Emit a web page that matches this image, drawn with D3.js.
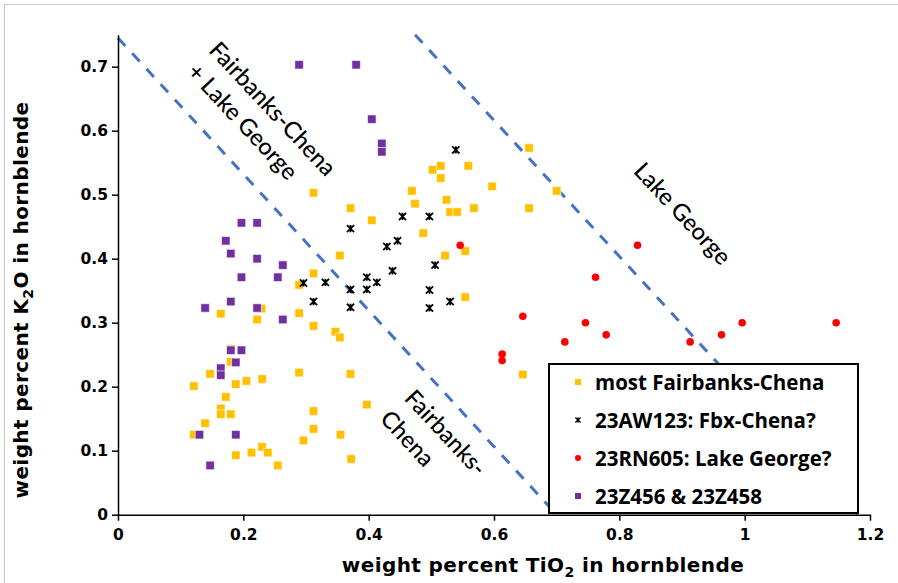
<!DOCTYPE html>
<html>
<head>
<meta charset="utf-8">
<script src="https://cdn.jsdelivr.net/npm/d3@7/dist/d3.min.js"></script>
<style>
  html, body { margin: 0; padding: 0; background: #fff; }
  svg { display: block; }
</style>
</head>
<body>
<svg id="chart" width="898" height="583"></svg>
<script>
// Hornblende TiO2 vs K2O (weight percent), grouped by source.
const fairbanksChena = [
  [0.312,0.503],[0.371,0.479],[0.405,0.460],[0.354,0.405],[0.312,0.377],[0.289,0.359],
  [0.229,0.322],[0.164,0.314],[0.222,0.305],[0.289,0.315],[0.312,0.295],[0.347,0.286],
  [0.354,0.277],[0.180,0.259],[0.180,0.239],[0.147,0.220],[0.188,0.204],[0.205,0.209],
  [0.230,0.212],[0.289,0.222],[0.371,0.220],[0.121,0.201],[0.172,0.184],[0.164,0.166],
  [0.164,0.157],[0.180,0.157],[0.139,0.143],[0.121,0.125],[0.188,0.093],[0.213,0.097],
  [0.230,0.106],[0.239,0.097],[0.255,0.077],[0.296,0.116],[0.312,0.162],[0.312,0.134],
  [0.355,0.125],[0.372,0.087],[0.397,0.172],
  [0.656,0.573],[0.502,0.539],[0.515,0.545],[0.515,0.526],[0.559,0.545],[0.469,0.506],
  [0.597,0.513],[0.700,0.506],[0.474,0.486],[0.524,0.492],[0.530,0.473],[0.541,0.473],
  [0.568,0.479],[0.656,0.479],[0.487,0.440],[0.522,0.405],[0.554,0.412],[0.554,0.340],
  [0.646,0.219]
];
const sample23AW123 = [
  [0.539,0.570],[0.371,0.447],[0.454,0.466],[0.497,0.466],[0.429,0.419],[0.446,0.428],
  [0.438,0.381],[0.506,0.390],[0.296,0.362],[0.331,0.363],[0.397,0.371],[0.413,0.363],
  [0.371,0.352],[0.397,0.352],[0.312,0.333],[0.371,0.324],[0.497,0.351],[0.497,0.323],
  [0.530,0.333]
];
const sample23RN605 = [
  [0.546,0.421],[0.829,0.421],[0.762,0.371],[0.646,0.310],[0.746,0.300],[0.996,0.300],
  [1.146,0.300],[0.779,0.281],[0.963,0.281],[0.713,0.270],[0.913,0.270],[0.613,0.251],
  [0.613,0.241]
];
const samples23Z456_458 = [
  [0.289,0.703],[0.380,0.703],[0.405,0.618],[0.421,0.580],[0.421,0.567],[0.197,0.456],
  [0.222,0.456],[0.172,0.428],[0.180,0.408],[0.222,0.400],[0.263,0.390],[0.197,0.371],
  [0.255,0.371],[0.180,0.333],[0.139,0.323],[0.222,0.323],[0.263,0.305],[0.180,0.257],
  [0.197,0.257],[0.188,0.238],[0.164,0.229],[0.164,0.218],[0.130,0.125],[0.188,0.125],
  [0.147,0.077]
];
// Field boundaries (TiO2, K2O end points)
const boundaryLower = [[0, 0.745], [0.70, 0]];
const boundaryUpper = [[0.474, 0.75], [1.18, 0]];

const xTicks = [0, 0.2, 0.4, 0.6, 0.8, 1, 1.2];
const yTicks = [0, 0.1, 0.2, 0.3, 0.4, 0.5, 0.6, 0.7];
const legendLabels = ["most Fairbanks-Chena", "23AW123: Fbx-Chena?", "23RN605: Lake George?", "23Z456 & 23Z458"];

const svg = d3.select("#chart");
const x = d3.scaleLinear().domain([0, 1.2]).range([118, 870]);
const y = d3.scaleLinear().domain([0, 0.75]).range([514.7, 34.7]);

const COLORS = { yellow: "#FFC000", red: "#FF0000", purple: "#7030A0", blue: "#4472C4" };
const tickFont = "'DejaVu Sans', Verdana, sans-serif";
const noteFont = "Lato, 'Open Sans', sans-serif";
const legendFont = "'Open Sans', Lato, sans-serif";

// outer chart frame
svg.append("rect").attr("x", 4.5).attr("y", 4.5).attr("width", 1000).attr("height", 1000)
  .attr("fill", "none").attr("stroke", "#c8c8c8").attr("stroke-width", 1);

// boundary lines
const line = d3.line().x(d => x(d[0])).y(d => y(d[1]));
[boundaryLower, boundaryUpper].forEach(b => {
  svg.append("path").attr("d", line(b))
    .attr("fill", "none").attr("stroke", COLORS.blue)
    .attr("stroke-width", 3).attr("stroke-dasharray", "11,10");
});

// axes
const fmt = d => d3.format("~g")(d);
const yAxis = svg.append("g").attr("transform", `translate(${x(0)},0)`)
  .call(d3.axisLeft(y).tickValues(yTicks).tickFormat(fmt).tickSize(6).tickSizeOuter(0));
const xAxis = svg.append("g").attr("transform", `translate(0,${y(0)})`)
  .call(d3.axisBottom(x).tickValues(xTicks).tickFormat(fmt).tickSize(6).tickSizeOuter(0));
[yAxis, xAxis].forEach(a => {
  a.select(".domain").attr("stroke", "#000").attr("stroke-width", 1.5);
  a.selectAll(".tick line").attr("stroke", "#000").attr("stroke-width", 1.5);
  a.selectAll(".tick text").attr("fill", "#000")
    .style("font-family", tickFont).style("font-weight", "bold").style("font-size", "15.5px");
});
yAxis.selectAll(".tick text").attr("x", -10);
xAxis.selectAll(".tick text").attr("y", 14);

// axis titles
const titleStyle = t => t.style("font-family", tickFont).style("font-weight", "bold")
  .style("font-size", "20px").style("letter-spacing", "0.4px");
const xt = svg.append("text").attr("x", 543).attr("y", 572).attr("text-anchor", "middle").call(titleStyle);
xt.append("tspan").text("weight percent TiO");
xt.append("tspan").attr("dy", 5).style("font-size", "14px").text("2");
xt.append("tspan").attr("dy", -5).text(" in hornblende");

const yt = svg.append("text").attr("transform", "translate(28,300) rotate(-90)").attr("text-anchor", "middle").call(titleStyle);
yt.append("tspan").text("weight percent K");
yt.append("tspan").attr("dy", 5).style("font-size", "14px").text("2");
yt.append("tspan").attr("dy", -5).text("O in hornblende");

// field annotations
const notes = [
  { t: "Fairbanks-Chena", cx: 0.248, cy: 0.635 },
  { t: "+ Lake George",   cx: 0.200, cy: 0.615 },
  { t: "Lake George",     cx: 0.902, cy: 0.471 },
  { t: "Fairbanks-",      cx: 0.524, cy: 0.129 },
  { t: "Chena",           cx: 0.463, cy: 0.120 }
];
svg.append("g").selectAll("text").data(notes).join("text")
  .attr("transform", d => `translate(${x(d.cx)},${y(d.cy)}) rotate(47)`)
  .attr("text-anchor", "middle").attr("dominant-baseline", "central")
  .style("font-family", noteFont).style("font-size", "23.5px").style("font-weight", "500")
  .attr("fill", "#000").text(d => d.t);

// markers
const starPath = s => `M${-s},${-s}L${s},${s}M${-s},${s}L${s},${-s}M0,${-s}L0,${s}`;
function squares(g, data, color, size) {
  g.selectAll("rect").data(data).join("rect")
    .attr("x", d => x(d[0]) - size / 2).attr("y", d => y(d[1]) - size / 2)
    .attr("width", size).attr("height", size)
    .attr("fill", color).attr("stroke", "rgba(255,255,255,0.6)").attr("stroke-width", 1);
}
squares(svg.append("g"), fairbanksChena, COLORS.yellow, 8.5);
svg.append("g").selectAll("path").data(sample23AW123).join("path")
  .attr("transform", d => `translate(${x(d[0])},${y(d[1])})`)
  .attr("d", starPath(3.6)).attr("stroke", "#000").attr("stroke-width", 1.8).attr("fill", "none");
svg.append("g").selectAll("circle").data(sample23RN605).join("circle")
  .attr("cx", d => x(d[0])).attr("cy", d => y(d[1])).attr("r", 3.8).attr("fill", COLORS.red);
squares(svg.append("g"), samples23Z456_458, COLORS.purple, 8.5);

// legend
const lg = svg.append("g");
lg.append("rect").attr("x", 549).attr("y", 364).attr("width", 309).attr("height", 149)
  .attr("fill", "#fff").attr("stroke", "#000").attr("stroke-width", 2);
const rowY = [382, 420, 458, 496];
legendLabels.forEach((lab, i) => {
  const cy = rowY[i], cx = 578;
  if (i === 0) lg.append("rect").attr("x", cx - 3).attr("y", cy - 3).attr("width", 6).attr("height", 6).attr("fill", COLORS.yellow);
  if (i === 1) lg.append("path").attr("transform", `translate(${cx},${cy})`).attr("d", starPath(2.6)).attr("stroke", "#000").attr("stroke-width", 1.4);
  if (i === 2) lg.append("circle").attr("cx", cx).attr("cy", cy).attr("r", 3).attr("fill", COLORS.red);
  if (i === 3) lg.append("rect").attr("x", cx - 3).attr("y", cy - 3).attr("width", 6).attr("height", 6).attr("fill", COLORS.purple);
  lg.append("text").attr("x", 595).attr("y", cy).attr("dominant-baseline", "central")
    .style("font-family", legendFont).style("font-weight", "bold").style("font-size", "20.5px")
    .attr("fill", "#000").text(lab);
});
</script>
</body>
</html>
